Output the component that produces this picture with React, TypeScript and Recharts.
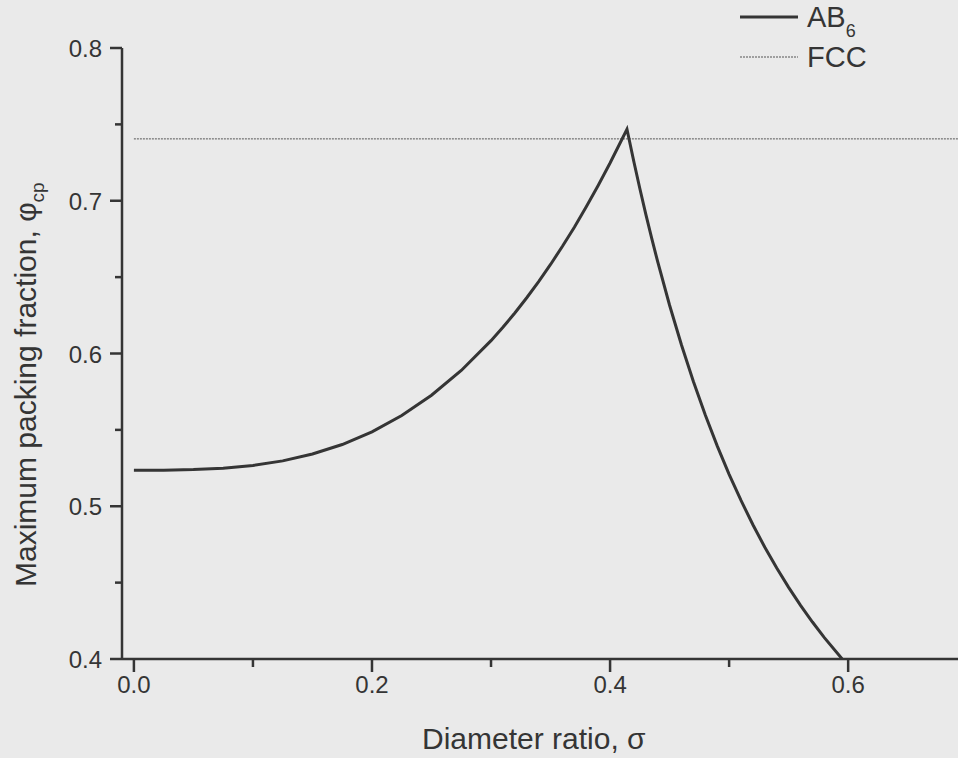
import { LineChart, Line, XAxis, YAxis, Legend, Label } from "recharts";

// diameter ratio sigma and max packing fraction for AB6
const sigmaAB6 = [
  0, 0.025, 0.05, 0.075, 0.1, 0.125, 0.15, 0.175, 0.2, 0.225, 0.25, 0.275, 0.3,
  0.31, 0.32, 0.33, 0.34, 0.35, 0.36, 0.37, 0.38, 0.39, 0.4, 0.4142,
  0.42, 0.425, 0.43, 0.435, 0.44, 0.45, 0.46, 0.47, 0.48, 0.49, 0.5,
  0.51, 0.52, 0.53, 0.54, 0.55, 0.56, 0.57, 0.58, 0.595,
];
const phiAB6 = [
  0.5236, 0.5236, 0.524, 0.5249, 0.5267, 0.5297, 0.5342, 0.5404, 0.5487, 0.5594,
  0.5727, 0.5889, 0.6084,
  0.6172, 0.6265, 0.6365, 0.6471, 0.6583, 0.6702, 0.6827, 0.696, 0.71, 0.7247, 0.7468,
  0.7255, 0.708, 0.6913, 0.6753, 0.6601, 0.6316, 0.6056, 0.5817, 0.5597, 0.5395, 0.5209,
  0.5038, 0.4879, 0.4732, 0.4596, 0.4469, 0.4351, 0.4242, 0.414, 0.4,
];

// FCC reference level
const sigmaFCC = [0, 0.72];
const phiFCC = [0.7405, 0.7405];

const xTicks = [0, 0.1, 0.2, 0.3, 0.4, 0.5, 0.6, 0.7];
const xMajor = [0, 0.2, 0.4, 0.6];
const yTicks = [0.4, 0.45, 0.5, 0.55, 0.6, 0.65, 0.7, 0.75, 0.8];
const yMajor = [0.4, 0.5, 0.6, 0.7, 0.8];

const ab6Rows = sigmaAB6.map((s, i) => ({ sigma: s, phi: phiAB6[i] }));
const fccRows = sigmaFCC.map((s, i) => ({ sigma: s, phi: phiFCC[i] }));

const INK = "#353535";
const FONT = "'Liberation Sans', Arial, sans-serif";

const isIn = (list: number[], v: number) => list.some((t) => Math.abs(t - v) < 1e-6);

function XTick({ x, y, payload }: any) {
  const v = payload.value;
  const major = isIn(xMajor, v);
  return (
    <g>
      <line x1={x} y1={y} x2={x} y2={y + (major ? 13 : 8)} stroke={INK} strokeWidth={2.5} />
      {major && (
        <text x={x} y={y + 34} textAnchor="middle" fontSize={24} fill={INK} fontFamily={FONT}>
          {v.toFixed(1)}
        </text>
      )}
    </g>
  );
}

function YTick({ x, y, payload }: any) {
  const v = payload.value;
  const major = isIn(yMajor, v);
  return (
    <g>
      <line x1={x} y1={y} x2={x - (major ? 12 : 7)} y2={y} stroke={INK} strokeWidth={2.5} />
      {major && (
        <text x={x - 20} y={y + 9} textAnchor="end" fontSize={24} fill={INK} fontFamily={FONT}>
          {v.toFixed(1)}
        </text>
      )}
    </g>
  );
}

function LegendBox() {
  return (
    <svg width={220} height={80} style={{ overflow: "visible" }}>
      <line x1={5} y1={17} x2={63} y2={17} stroke={INK} strokeWidth={3} />
      <text x={72} y={27} fontSize={29} fill={INK} fontFamily={FONT}>
        AB<tspan fontSize={18} dy={10}>6</tspan>
      </text>
      <line x1={5} y1={57} x2={63} y2={57} stroke="#555" strokeWidth={1} strokeDasharray="2 1" />
      <text x={72} y={67} fontSize={29} fill={INK} fontFamily={FONT}>
        FCC
      </text>
    </svg>
  );
}

export default function App() {
  return (
    <div
      style={{
        position: "fixed",
        left: 0,
        top: 0,
        width: 958,
        height: 758,
        overflow: "hidden",
        background: "#eaeaea",
      }}
    >
      <LineChart width={991} height={758} margin={{ top: 48, right: 0, bottom: 0, left: 0 }}>
        <XAxis
          type="number"
          dataKey="sigma"
          domain={[-0.01, 0.72]}
          allowDataOverflow
          ticks={xTicks}
          interval={0}
          tick={<XTick />}
          tickSize={0}
          tickMargin={0}
          tickLine={false}
          axisLine={{ stroke: INK, strokeWidth: 2.5 }}
          height={99}
        >
          <Label
            content={() => (
              <text x={422} y={749} fontSize={30} fill={INK} fontFamily={FONT}>
                Diameter ratio, σ
              </text>
            )}
          />
        </XAxis>
        <YAxis
          type="number"
          domain={[0.4, 0.8]}
          allowDataOverflow
          ticks={yTicks}
          interval={0}
          tick={<YTick />}
          tickSize={0}
          tickMargin={0}
          tickLine={false}
          axisLine={{ stroke: INK, strokeWidth: 2.5 }}
          width={122}
        >
          <Label
            content={() => (
              <text
                x={36}
                y={587}
                transform="rotate(-90 36 587)"
                fontSize={30}
                fill={INK}
                fontFamily={FONT}
              >
                Maximum packing fraction, φ<tspan fontSize={19} dy={8}>cp</tspan>
              </text>
            )}
          />
        </YAxis>
        <Legend
          layout="horizontal"
          verticalAlign="middle"
          align="center"
          wrapperStyle={{ left: 735, top: 0, width: 220, height: 80 }}
          content={() => <LegendBox />}
        />
        <Line
          data={fccRows}
          dataKey="phi"
          name="FCC"
          type="linear"
          stroke="#555"
          strokeWidth={1}
          strokeDasharray="2 1"
          dot={false}
          isAnimationActive={false}
        />
        <Line
          data={ab6Rows}
          dataKey="phi"
          name="AB6"
          type="linear"
          stroke={INK}
          strokeWidth={3}
          dot={false}
          isAnimationActive={false}
        />
      </LineChart>
    </div>
  );
}
